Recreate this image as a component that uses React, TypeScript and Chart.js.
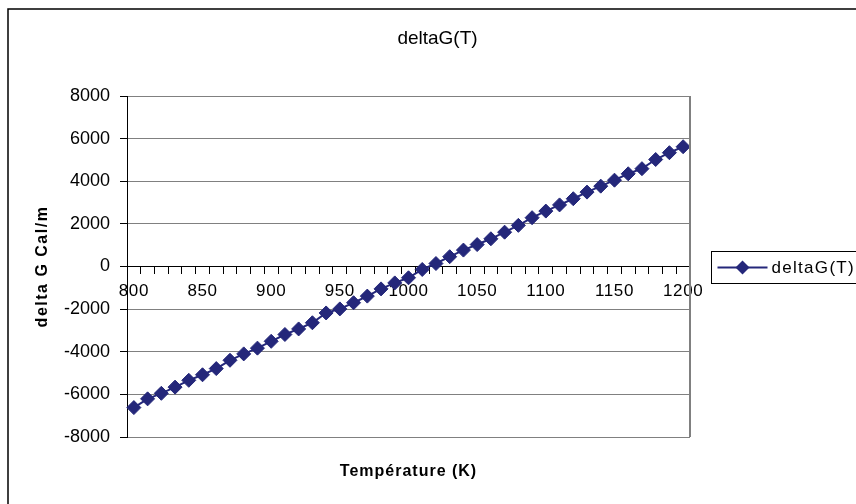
import React, { useEffect, useRef } from 'react';
import { Chart, registerables } from 'chart.js';

Chart.register(...registerables);

// ---- data ----
const temperatures = [
  '800', '810', '820', '830', '840', '850', '860', '870', '880', '890',
  '900', '910', '920', '930', '940', '950', '960', '970', '980', '990',
  '1000', '1010', '1020', '1030', '1040', '1050', '1060', '1070', '1080', '1090',
  '1100', '1110', '1120', '1130', '1140', '1150', '1160', '1170', '1180', '1190',
  '1200',
];
const deltaG = [
  -6620, -6210, -5950, -5660, -5340, -5080, -4790, -4400, -4100, -3830,
  -3510, -3190, -2930, -2640, -2180, -1990, -1700, -1390, -1050, -770,
  -530, -140, 140, 460, 770, 1030, 1300, 1610, 1930, 2290,
  2600, 2890, 3180, 3490, 3770, 4050, 4350, 4590, 5020, 5340,
  5620,
];
const shownTempLabels = ['800', '850', '900', '950', '1000', '1050', '1100', '1150', '1200'];
const yMin = -8000;
const yMax = 8000;
const yStep = 2000;
const seriesLabel = 'deltaG(T)';
const chartTitle = 'deltaG(T)';
const xTitle = 'Température (K)';
const yTitle = 'delta G Cal/m';

const FONT = "'Liberation Sans', Arial, sans-serif";
const NAVY = '#24277a';

function withSpacing(chart: any, obj: any, method: string, spacing: string) {
  if (!obj || obj['__ls_' + method]) return;
  const orig = obj[method].bind(obj);
  obj[method] = (...args: any[]) => {
    const c = chart.ctx;
    const prev = c.letterSpacing;
    c.letterSpacing = spacing;
    try {
      orig(...args);
    } finally {
      c.letterSpacing = prev;
    }
  };
  obj['__ls_' + method] = true;
}

const spacingPlugin = {
  id: 'spacingPlugin',
  beforeDraw(chart: any) {
    withSpacing(chart, chart.scales.y, 'drawTitle', '1.5px');
    withSpacing(chart, chart.scales.x2, 'drawTitle', '1px');
    withSpacing(chart, chart.scales.x, 'drawLabels', '0.6px');
  },
};

const framePlugin = {
  id: 'framePlugin',
  beforeDraw(chart: any) {
    const ctx = chart.ctx;
    ctx.save();
    ctx.fillStyle = '#ffffff';
    ctx.fillRect(0, 0, chart.width, chart.height);
    ctx.restore();
  },
  afterDraw(chart: any) {
    const ctx = chart.ctx;
    const ca = chart.chartArea;
    ctx.save();
    // outer chart border (left and top visible)
    ctx.strokeStyle = '#000000';
    ctx.lineWidth = 1.5;
    ctx.beginPath();
    ctx.moveTo(8, chart.height + 2);
    ctx.lineTo(8, 9);
    ctx.lineTo(chart.width + 2, 9);
    ctx.stroke();
    // plot area right border
    ctx.strokeStyle = '#808080';
    ctx.lineWidth = 2;
    ctx.beginPath();
    ctx.moveTo(ca.right, ca.top);
    ctx.lineTo(ca.right, ca.bottom);
    ctx.stroke();

    // legend
    const ds = chart.data.datasets[0];
    const cy = Math.round((ca.top + ca.bottom) / 2) + 0.5;
    const bx = Math.round(ca.right + 21) + 0.5;
    ctx.strokeStyle = '#000000';
    ctx.lineWidth = 1;
    ctx.strokeRect(bx, cy - 16, 200, 32);
    const lx0 = bx + 6;
    const lx1 = bx + 56;
    ctx.strokeStyle = ds.borderColor;
    ctx.lineWidth = 2;
    ctx.beginPath();
    ctx.moveTo(lx0, cy);
    ctx.lineTo(lx1, cy);
    ctx.stroke();
    const mx = (lx0 + lx1) / 2;
    const r = 7;
    ctx.fillStyle = ds.pointBackgroundColor;
    ctx.beginPath();
    ctx.moveTo(mx, cy - r);
    ctx.lineTo(mx + r, cy);
    ctx.lineTo(mx, cy + r);
    ctx.lineTo(mx - r, cy);
    ctx.closePath();
    ctx.fill();
    ctx.fillStyle = '#000000';
    ctx.font = `17px ${FONT}`;
    (ctx as any).letterSpacing = '1.3px';
    ctx.textAlign = 'left';
    ctx.textBaseline = 'middle';
    ctx.fillText(ds.label, lx1 + 4, cy + 1);
    ctx.restore();
  },
};

export default function App() {
  const canvasRef = useRef<HTMLCanvasElement | null>(null);

  useEffect(() => {
    if (!canvasRef.current) return;
    const chart = new Chart(canvasRef.current, {
      type: 'line',
      data: {
        labels: temperatures,
        datasets: [
          {
            label: seriesLabel,
            data: deltaG,
            xAxisID: 'x',
            yAxisID: 'y',
            borderColor: NAVY,
            backgroundColor: NAVY,
            borderWidth: 2,
            pointStyle: 'rectRot',
            pointRadius: 7,
            pointBorderWidth: 1,
            pointBackgroundColor: NAVY,
            pointBorderColor: NAVY,
            tension: 0,
            fill: false,
          },
        ],
      },
      plugins: [spacingPlugin, framePlugin],
      options: {
        responsive: false,
        animation: false,
        devicePixelRatio: 1,
        layout: { padding: { left: 19, right: 0, top: 0, bottom: 0 } },
        plugins: {
          legend: { display: false },
          tooltip: { enabled: false },
          title: {
            display: true,
            text: chartTitle,
            color: '#000000',
            font: { family: FONT, size: 19, weight: 'normal' },
            padding: { top: 27.6, bottom: 45.6 },
          },
        },
        scales: {
          x: {
            type: 'category',
            position: { y: 0 } as any,
            offset: true,
            grid: {
              display: true,
              drawOnChartArea: false,
              drawTicks: true,
              tickLength: 7,
              offset: true,
              color: '#000000',
              tickColor: '#000000',
            },
            border: { display: true, color: '#000000', width: 1 },
            ticks: {
              autoSkip: false,
              maxRotation: 0,
              minRotation: 0,
              padding: 8,
              color: '#000000',
              font: { family: FONT, size: 17 },
              callback: (_v: any, i: number) =>
                shownTempLabels.includes(temperatures[i]) ? temperatures[i] : '',
            },
          },
          y: {
            type: 'linear',
            position: 'left',
            min: yMin,
            max: yMax,
            afterFit: (s: any) => {
              s.width = 108;
            },
            grid: {
              color: '#808080',
              tickColor: '#000000',
              tickLength: 7,
              lineWidth: 1,
            },
            border: { display: true, color: '#000000', width: 1 },
            ticks: {
              stepSize: yStep,
              padding: 10,
              color: '#000000',
              font: { family: FONT, size: 18 },
              callback: (v: any) => String(v),
            },
            title: {
              display: true,
              text: yTitle,
              color: '#000000',
              font: { family: FONT, size: 16, weight: 'bold' },
              padding: { top: 14.4, bottom: 0 },
            },
          },
          x2: {
            type: 'linear',
            position: 'bottom',
            display: true,
            afterFit: (s: any) => {
              s.height = 67;
            },
            grid: { display: false, drawTicks: false },
            border: { display: false },
            ticks: { display: false },
            title: {
              display: true,
              text: xTitle,
              color: '#000000',
              font: { family: FONT, size: 16, weight: 'bold' },
              padding: { top: 25, bottom: 22.4 },
            },
          },
          y2: {
            type: 'linear',
            position: 'right',
            display: true,
            afterFit: (s: any) => {
              s.width = 166;
            },
            grid: { display: false, drawTicks: false },
            border: { display: false },
            ticks: { display: false },
          },
        },
      } as any,
    });
    return () => chart.destroy();
  }, []);

  return (
    <div style={{ position: 'fixed', left: 0, top: 0, width: 856, height: 504, background: '#fff' }}>
      <canvas ref={canvasRef} width={856} height={504} style={{ display: 'block' }} />
    </div>
  );
}
